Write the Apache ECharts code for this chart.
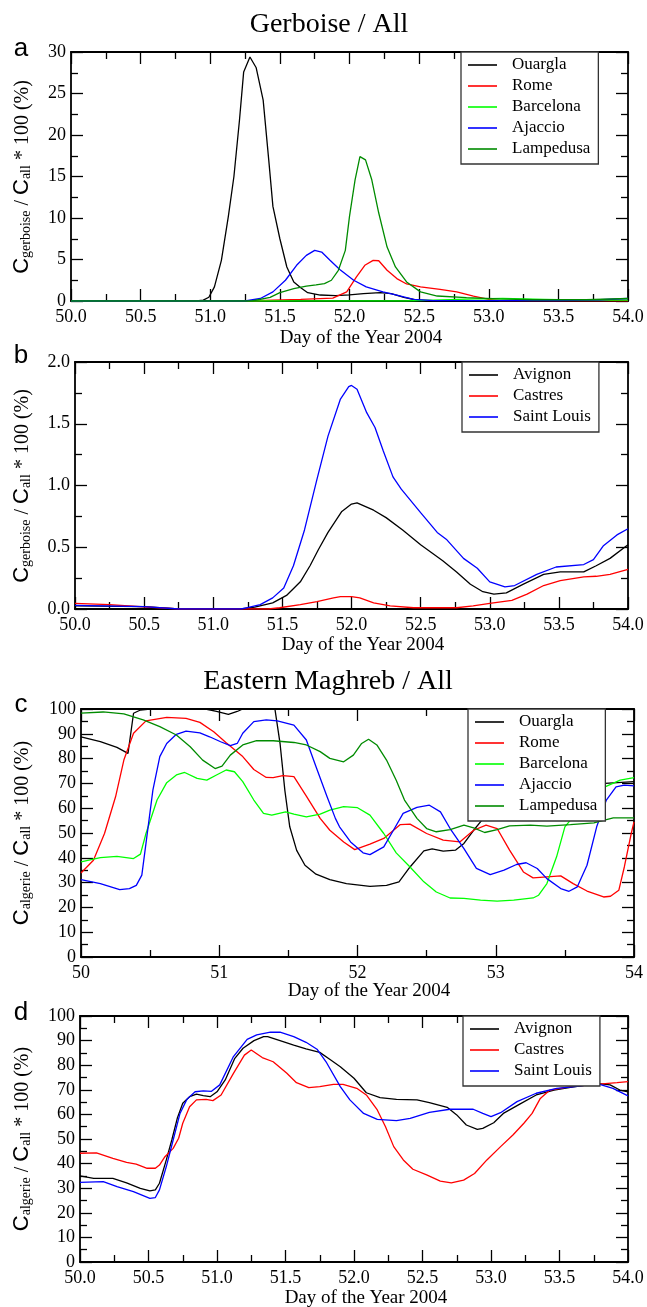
<!DOCTYPE html>
<html><head><meta charset="utf-8">
<script src="https://cdn.jsdelivr.net/npm/echarts/dist/echarts.min.js"></script>
<style>html,body{margin:0;padding:0;background:#fff}#c{width:647px;height:1307px}</style>
</head><body><div id="c"></div>
<script>
// ---------------- DATA ----------------
// Panel a : Gerboise / All  (day, %)
const aOuargla = [[50,0],[50.9,0],[50.95,0.1],[50.99,0.45],[51.03,1.7],[51.08,4.9],[51.13,10.2],[51.17,15],[51.21,21.8],[51.24,27.6],[51.285,29.4],[51.33,28.1],[51.38,24.2],[51.42,17],[51.45,11.4],[51.5,7.5],[51.55,4.1],[51.6,2.3],[51.65,1.6],[51.7,1.0],[51.79,0.72],[51.9,0.65],[52.0,0.75],[52.1,0.88],[52.22,1.0],[52.3,0.9],[52.39,0.45],[52.48,0.12],[52.6,0.05],[53,0.02],[54,0.02]];
const aRome = [[50,0],[51.3,0],[51.45,0.1],[51.65,0.2],[51.88,0.35],[51.98,1.1],[52.05,2.9],[52.11,4.3],[52.17,4.9],[52.21,4.85],[52.27,3.7],[52.34,2.7],[52.41,2.05],[52.51,1.7],[52.65,1.4],[52.77,1.1],[52.89,0.6],[53.0,0.2],[53.08,0.05],[54,0.02]];
const aBarcelona = [[50,0],[52.4,0],[52.6,0.1],[52.9,0.25],[53.1,0.3],[53.4,0.2],[53.7,0.1],[54,0.1]];
const aAjaccio = [[50,0],[51.25,0],[51.36,0.3],[51.45,1.1],[51.54,2.5],[51.62,4.3],[51.69,5.5],[51.75,6.1],[51.8,5.9],[51.86,4.9],[51.93,3.8],[52.03,2.5],[52.12,1.7],[52.24,1.1],[52.34,0.7],[52.46,0.2],[52.6,0.05],[53.5,0.05],[53.8,0.15],[54,0.3]];
const aLampedusa = [[50,0],[51.3,0],[51.43,0.44],[51.5,1.0],[51.6,1.5],[51.69,1.8],[51.76,1.95],[51.82,2.1],[51.87,2.5],[51.92,3.7],[51.97,6.1],[52.0,10.2],[52.04,14.6],[52.075,17.4],[52.115,17.0],[52.16,14.6],[52.21,10.6],[52.27,6.5],[52.33,4.1],[52.41,2.3],[52.51,1.1],[52.63,0.6],[52.84,0.4],[53.08,0.25],[53.32,0.15],[53.7,0.15],[54,0.3]];

// Panel b : Gerboise / All (French stations)
const bAvignon = [[50,0.025],[50.5,0.02],[50.75,0],[51.2,0],[51.3,0.015],[51.43,0.05],[51.53,0.11],[51.63,0.22],[51.7,0.35],[51.76,0.48],[51.83,0.62],[51.93,0.79],[52.0,0.85],[52.04,0.86],[52.16,0.8],[52.25,0.74],[52.37,0.64],[52.5,0.52],[52.66,0.39],[52.76,0.30],[52.86,0.20],[52.95,0.14],[53.03,0.12],[53.12,0.13],[53.24,0.20],[53.39,0.28],[53.51,0.30],[53.68,0.30],[53.77,0.35],[53.87,0.41],[54,0.52]];
const bCastres = [[50,0.045],[50.25,0.035],[50.47,0.02],[50.75,0],[51.4,0],[51.48,0.01],[51.63,0.035],[51.75,0.06],[51.87,0.09],[51.92,0.10],[52.0,0.10],[52.06,0.09],[52.16,0.05],[52.28,0.025],[52.45,0.01],[52.76,0.01],[52.88,0.025],[53.0,0.045],[53.16,0.07],[53.27,0.12],[53.39,0.19],[53.51,0.23],[53.68,0.26],[53.77,0.265],[53.87,0.28],[54,0.32]];
const bSaintLouis = [[50,0.03],[50.5,0.02],[50.75,0],[51.2,0],[51.24,0.01],[51.34,0.035],[51.43,0.09],[51.51,0.17],[51.58,0.35],[51.66,0.64],[51.75,1.05],[51.83,1.40],[51.92,1.70],[51.98,1.80],[52.0,1.81],[52.04,1.78],[52.11,1.59],[52.17,1.47],[52.23,1.28],[52.3,1.07],[52.36,0.97],[52.5,0.78],[52.62,0.62],[52.69,0.56],[52.81,0.41],[52.91,0.33],[53.0,0.22],[53.11,0.18],[53.18,0.19],[53.34,0.28],[53.48,0.34],[53.68,0.36],[53.75,0.40],[53.82,0.51],[53.92,0.60],[54,0.65]];

// Panel c : Eastern Maghreb / All
const cOuargla = [[50,88.8],[50.14,86.8],[50.26,84.5],[50.34,82.1],[50.38,98.3],[50.43,99.6],[50.5,100],[50.9,100],[50.98,99],[51.066,97.8],[51.13,99],[51.17,100],[51.2,101],[51.4,101],[51.44,86],[51.475,67],[51.51,52.5],[51.56,43],[51.62,37],[51.7,33.4],[51.8,31.2],[51.92,29.6],[52.09,28.5],[52.21,28.9],[52.3,30.3],[52.38,36.3],[52.48,42.8],[52.54,43.6],[52.62,42.7],[52.71,43.1],[52.77,45.8],[52.84,51.1],[52.9,55.2],[53.0,60],[53.2,66],[53.5,69.5],[53.79,70],[54,70.7]];
const cRome = [[50,33.9],[50.09,39],[50.17,49.8],[50.25,64.6],[50.31,79.4],[50.38,90.2],[50.47,95.2],[50.62,96.6],[50.76,96.2],[50.86,94.6],[50.96,90.8],[51.05,86.4],[51.17,80.8],[51.25,75.6],[51.34,72.4],[51.39,72.3],[51.46,73.1],[51.54,72.7],[51.63,64.9],[51.73,55.9],[51.8,51.1],[51.9,46.4],[51.98,43.3],[52.09,45.5],[52.19,47.8],[52.31,53.4],[52.38,53.6],[52.5,49.8],[52.62,47.1],[52.74,46.4],[52.84,51.1],[52.93,53.2],[53.01,51.8],[53.1,43.1],[53.2,34.3],[53.27,31.9],[53.37,32.3],[53.47,32.7],[53.56,29.6],[53.66,26.6],[53.78,24.2],[53.83,24.5],[53.89,26.9],[53.93,36.3],[53.98,49.8],[54,54.5]];
const cBarcelona = [[50,38.4],[50.14,40.1],[50.26,40.6],[50.38,39.7],[50.43,41.5],[50.47,49.8],[50.55,63.3],[50.62,70.3],[50.69,73.4],[50.75,74.4],[50.84,72],[50.91,71.3],[50.98,73.4],[51.05,75.4],[51.11,74.7],[51.17,70.7],[51.25,63.3],[51.32,57.9],[51.38,57.2],[51.48,58.5],[51.54,57.6],[51.63,56.5],[51.73,57.6],[51.8,59.2],[51.9,60.6],[52.0,60.2],[52.09,57.2],[52.19,49.8],[52.28,42],[52.38,36.3],[52.48,30.3],[52.57,26.2],[52.67,23.8],[52.77,23.6],[52.89,22.9],[53.01,22.5],[53.13,22.9],[53.27,23.8],[53.31,24.9],[53.37,29.6],[53.44,40.4],[53.5,52.5],[53.54,55.2],[53.62,62],[53.7,66],[53.79,68.6],[53.9,71.3],[54,72.3]];
const cAjaccio = [[50,31.2],[50.14,29.6],[50.28,27.2],[50.35,27.6],[50.4,28.9],[50.44,33],[50.47,45.8],[50.52,67.3],[50.57,80.8],[50.62,86.1],[50.69,89.8],[50.76,91.1],[50.86,90.4],[50.93,88.8],[51.01,86.8],[51.08,85.2],[51.13,86.1],[51.17,90.2],[51.25,94.9],[51.34,95.6],[51.42,95.2],[51.54,93.5],[51.63,87.5],[51.7,76.7],[51.78,64.6],[51.84,55.9],[51.87,52.5],[51.95,46.4],[52.04,42],[52.09,41.3],[52.19,44.4],[52.26,51.1],[52.33,57.9],[52.43,60.3],[52.52,61.2],[52.6,58.5],[52.67,51.8],[52.77,43.7],[52.86,35.7],[52.96,33.2],[53.06,35],[53.15,37.3],[53.22,38],[53.3,35.7],[53.37,31.6],[53.47,27.6],[53.53,26.5],[53.59,28.3],[53.66,37],[53.73,52.5],[53.8,63.3],[53.87,68.6],[53.93,69.3],[54,69]];
const cLampedusa = [[50,98.3],[50.16,98.8],[50.31,98],[50.45,95.6],[50.57,92.9],[50.69,89.5],[50.79,84.8],[50.88,79.4],[50.97,76],[51.02,77],[51.08,81.4],[51.17,85.5],[51.27,87.2],[51.39,87.2],[51.54,86.5],[51.63,85.5],[51.73,82.8],[51.8,80.1],[51.9,78.7],[51.97,81.4],[52.03,86.1],[52.08,87.8],[52.14,85.5],[52.21,79.4],[52.28,71.3],[52.34,63.3],[52.43,55.9],[52.5,51.8],[52.57,50.5],[52.67,51.4],[52.77,53.2],[52.84,52.1],[52.92,50.2],[53.01,51.4],[53.1,52.9],[53.25,53.2],[53.37,52.8],[53.54,53.4],[53.71,54.1],[53.85,56.1],[54,56.1]];

// Panel d : Eastern Maghreb / All (French stations)
const dAvignon = [[50,35],[50.1,34],[50.24,34],[50.34,32.2],[50.44,29.9],[50.51,28.9],[50.55,29.3],[50.58,32],[50.63,41.5],[50.67,49.6],[50.71,58.4],[50.75,64.5],[50.8,67.2],[50.85,68.2],[50.9,67.6],[50.95,67.2],[51.0,69.2],[51.06,74],[51.13,82.8],[51.19,86.9],[51.27,90],[51.34,91.6],[51.37,91.6],[51.46,90],[51.56,88.2],[51.65,86.6],[51.75,85.2],[51.82,82.5],[51.9,79.4],[52.0,74.7],[52.09,68.8],[52.19,66.8],[52.31,66.1],[52.46,65.9],[52.55,64.8],[52.68,62.9],[52.75,59.8],[52.82,55.7],[52.9,53.9],[52.94,54.3],[53.02,56.6],[53.09,60.4],[53.21,64.2],[53.33,67.9],[53.46,69.9],[53.58,71],[53.77,72.6],[53.87,72],[53.94,69.9],[54,69.2]];
const dCastres = [[50,44.2],[50.12,44.4],[50.24,42.1],[50.34,40.5],[50.41,39.8],[50.49,38.1],[50.55,38.1],[50.58,39.4],[50.62,42.8],[50.68,46.2],[50.72,50.3],[50.75,56.4],[50.8,63.1],[50.85,65.9],[50.92,66.1],[50.97,65.6],[51.03,67.9],[51.12,76.7],[51.2,84.1],[51.25,86.2],[51.33,83.1],[51.41,81.4],[51.51,76.7],[51.58,72.9],[51.67,70.9],[51.75,71.3],[51.85,72.2],[51.92,72.2],[52.02,70.6],[52.09,67.9],[52.17,61.8],[52.23,55],[52.29,46.9],[52.36,41.5],[52.43,37.7],[52.53,35.4],[52.63,32.9],[52.71,32.2],[52.8,33.3],[52.88,36],[52.97,41.5],[53.07,46.9],[53.16,51.6],[53.24,56.4],[53.3,60.4],[53.36,66.5],[53.43,69.9],[53.58,71.3],[53.77,72.2],[53.92,72.9],[54,73.3]];
const dSaintLouis = [[50,32.4],[50.17,32.7],[50.27,30.6],[50.39,28.6],[50.51,25.9],[50.55,26.2],[50.58,29.3],[50.63,38.8],[50.68,49.6],[50.73,60.4],[50.78,66.1],[50.84,69.2],[50.9,69.6],[50.96,69.4],[51.02,72],[51.12,83.5],[51.22,90.5],[51.29,92.3],[51.39,93.4],[51.46,93.4],[51.56,91.6],[51.65,89.3],[51.73,86.5],[51.8,81],[51.9,71.3],[51.97,65.9],[52.07,60.4],[52.17,58],[52.31,57.5],[52.41,58.4],[52.55,60.8],[52.7,62.1],[52.87,62.1],[52.94,60.4],[53.0,59.1],[53.07,60.7],[53.19,65.2],[53.33,68.6],[53.48,70.6],[53.65,71.5],[53.77,72.6],[53.89,70.6],[54,67.5]];

const namesAC = ['Ouargla','Rome','Barcelona','Ajaccio','Lampedusa'];
const namesBD = ['Avignon','Castres','Saint Louis'];
const titles = ['Gerboise / All','Eastern Maghreb / All'];
const xName = 'Day of the Year 2004';

// ---------------- STYLE / LAYOUT ----------------
const colors = {Ouargla:'#000000',Rome:'#ff0000',Barcelona:'#00ff00',Ajaccio:'#0000ff',Lampedusa:'#008b00',Avignon:'#000000',Castres:'#ff0000','Saint Louis':'#0000ff'};
const SERIF = 'Liberation Serif', SANS = 'Liberation Sans';
const gridBoxes = [
  {left:71, top:52, width:557, height:249},
  {left:75, top:362, width:553, height:247},
  {left:81, top:709, width:553, height:248},
  {left:80, top:1016, width:548, height:246}
];
const xCfg = [{min:50,max:54,interval:0.5,dec:1},{min:50,max:54,interval:0.5,dec:1},{min:50,max:54,interval:1,dec:0},{min:50,max:54,interval:0.5,dec:1}];
const yCfg = [{min:0,max:30,interval:5,dec:0},{min:0,max:2,interval:0.5,dec:1},{min:0,max:100,interval:10,dec:0},{min:0,max:100,interval:10,dec:0}];

function axis(kind, gi, cfg, pos, showLabel) {
  return {
    type:'value', gridIndex:gi, position:pos, min:cfg.min, max:cfg.max, interval:cfg.interval,
    axisLine:{show:true, onZero:false, lineStyle:{color:'#000', width:1.8}},
    axisTick:{show:true, inside:true, length:12, lineStyle:{color:'#000', width:1.3}},
    minorTick:{show:true, splitNumber:2, length:7, lineStyle:{color:'#000', width:1.3}},
    splitLine:{show:false}, minorSplitLine:{show:false},
    axisLabel:{show:showLabel, margin: kind==='x'?7:5, color:'#000', fontFamily:SERIF, fontSize:18,
      showMinLabel:true, showMaxLabel:true, formatter:v=>Number(v).toFixed(cfg.dec)}
  };
}
const grid = gridBoxes.map(g=>Object.assign({containLabel:false, outerBoundsMode:'none', show:false}, g));
const xAxis = [], yAxis = [];
for (let i=0;i<4;i++){
  xAxis.push(axis('x', i, xCfg[i], 'bottom', true));
  xAxis.push(axis('x', i, xCfg[i], 'top', false));
  yAxis.push(axis('y', i, yCfg[i], 'left', true));
  yAxis.push(axis('y', i, yCfg[i], 'right', false));
}
const panelData = [
  [aOuargla,aRome,aBarcelona,aAjaccio,aLampedusa],
  [bAvignon,bCastres,bSaintLouis],
  [cOuargla,cRome,cBarcelona,cAjaccio,cLampedusa],
  [dAvignon,dCastres,dSaintLouis]
];
const panelNames = [namesAC,namesBD,namesAC,namesBD];
const series = [];
panelData.forEach((arrs,gi)=>{
  arrs.forEach((d,k)=>{
    const n = panelNames[gi][k];
    series.push({type:'line', name:n, xAxisIndex:2*gi, yAxisIndex:2*gi, data:d, symbol:'none', showSymbol:false,
      clip:true, lineStyle:{width:1.3, color:colors[n]}, itemStyle:{color:colors[n]}, z:2});
  });
});
function mkLegend(names, left, top){
  return {show:true, orient:'vertical', left, top, data:names, icon:'rect', itemWidth:29, itemHeight:1.6,
    itemGap:3, padding:[4,8,6,7], selectedMode:false, backgroundColor:'#fff', borderColor:'#333', borderWidth:1.3,
    borderRadius:0, z:10, textStyle:{fontFamily:SERIF, fontSize:17, color:'#000', lineHeight:18, padding:[0,0,0,10]}};
}
const legend = [mkLegend(namesAC,461,52), mkLegend(namesBD,462,362), mkLegend(namesAC,468,709), mkLegend(namesBD,463,1016)];

function txt(x,y,text,font,extra){
  return Object.assign({type:'text', x, y, z:20, style:{text, font, fill:'#000', align:'center', verticalAlign:'middle', textAlign:'center', textVerticalAlign:'middle'}}, extra||{});
}
function yName(sub, x, y){
  return {type:'text', x, y, rotation:Math.PI/2, z:20, style:{
    text:'{c|C}{s|'+sub+'}{m| / }{c|C}{s|all}{m| * 100 (%)}',
    fill:'#000', align:'center', verticalAlign:'middle', textAlign:'center', textVerticalAlign:'middle',
    rich:{
      c:{fontFamily:SANS, fontSize:22, lineHeight:24, verticalAlign:'bottom', fill:'#000'},
      m:{fontFamily:SERIF, fontSize:20, lineHeight:24, verticalAlign:'bottom', fill:'#000'},
      s:{fontFamily:SERIF, fontSize:14, lineHeight:8, verticalAlign:'bottom', fill:'#000'}
    }}};
}
const graphic = [
  txt(329,25,titles[0],'28px "Liberation Serif"'),
  txt(328,682,titles[1],'28px "Liberation Serif"'),
  txt(21,49,'a','26px "Liberation Sans"'),
  txt(21,356,'b','26px "Liberation Sans"'),
  txt(21,705,'c','26px "Liberation Sans"'),
  txt(21,1013,'d','26px "Liberation Sans"'),
  txt(361,338,xName,'19px "Liberation Serif"'),
  txt(363,645,xName,'19px "Liberation Serif"'),
  txt(369,991,xName,'19px "Liberation Serif"'),
  txt(366,1298,xName,'19px "Liberation Serif"'),
  yName('gerboise',21,177),
  yName('gerboise',21,486),
  yName('algerie',21,833),
  yName('algerie',21,1139)
];

const chart = echarts.init(document.getElementById('c'), null, {renderer:'canvas'});
chart.setOption({backgroundColor:'#fff', animation:false, grid, xAxis, yAxis, series, legend, graphic});
</script></body></html>
